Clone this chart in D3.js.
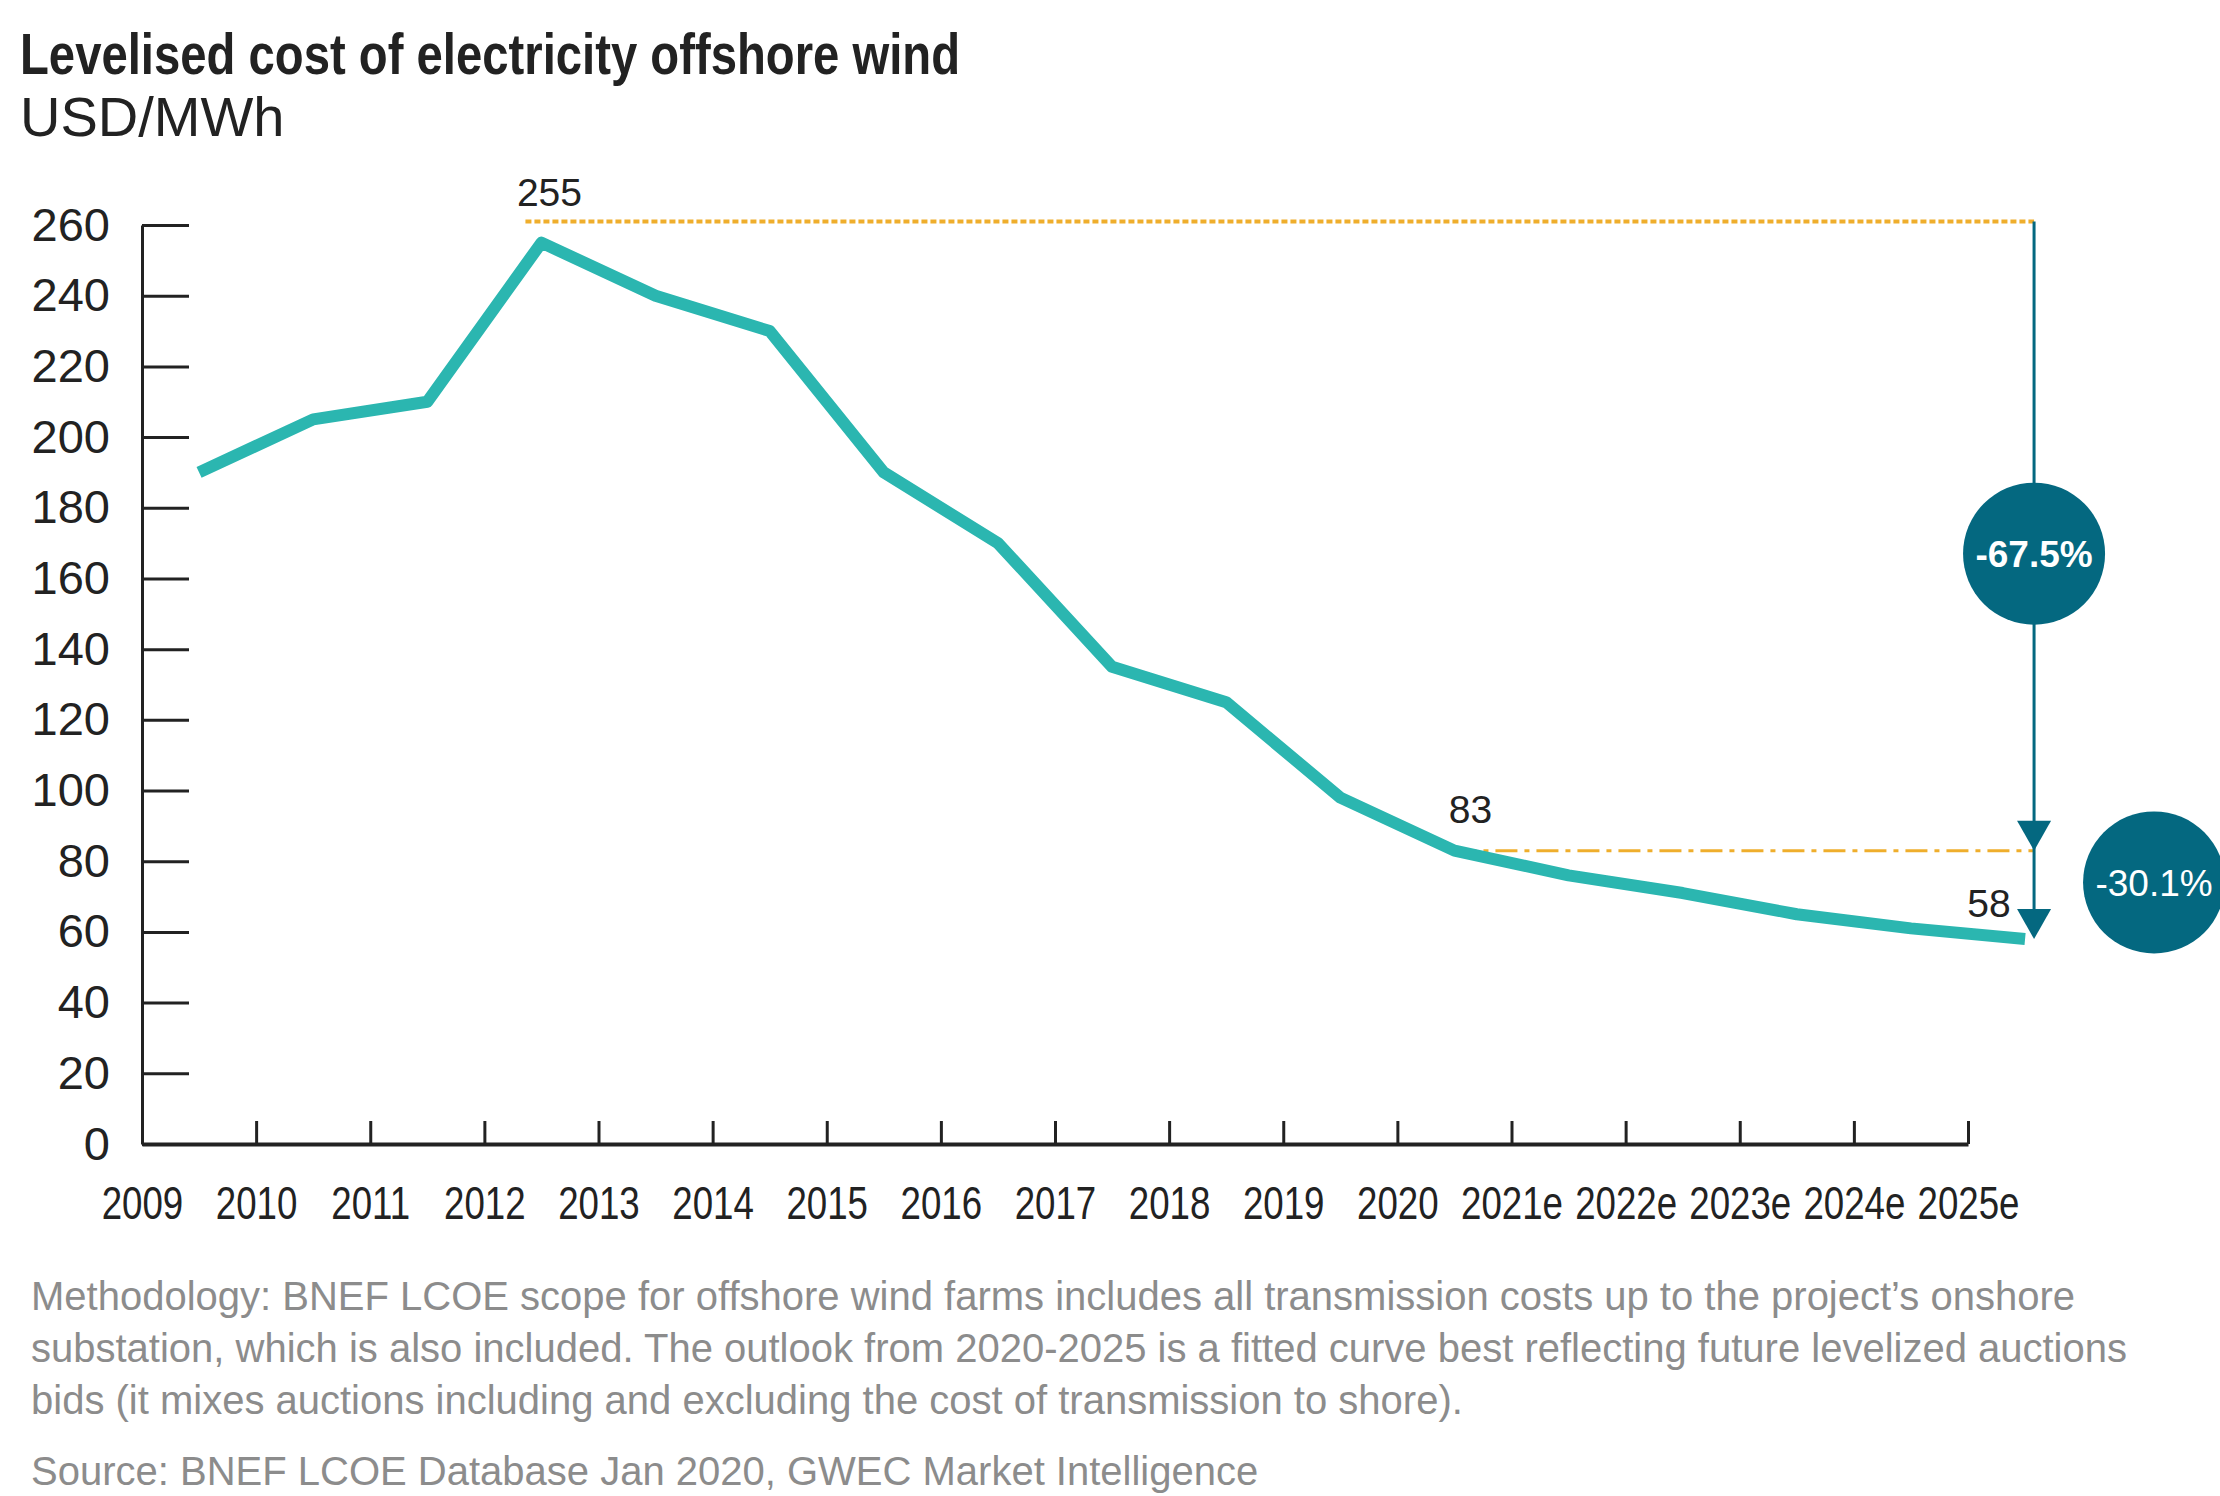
<!DOCTYPE html>
<html>
<head>
<meta charset="utf-8">
<script src="https://cdn.jsdelivr.net/npm/d3@7/dist/d3.min.js"></script>
<style>
  body { margin: 0; background: #fff; }
  svg { display: block; }
</style>
</head>
<body>
<script>
// data
var years = ["2009", "2010", "2011", "2012", "2013", "2014", "2015", "2016", "2017",
             "2018", "2019", "2020", "2021e", "2022e", "2023e", "2024e", "2025e"];
var lcoe = [190, 205, 210, 255, 240, 230, 190, 170, 135, 125, 98, 83, 76, 71, 65, 61, 58];
var yTicks = [0, 20, 40, 60, 80, 100, 120, 140, 160, 180, 200, 220, 240, 260];

var peakValue = 255, startValue = 83, endValue = 58;
var dropAll = "-67.5%", dropOutlook = "-30.1%";

var titleText = "Levelised cost of electricity offshore wind";
var unitText = "USD/MWh";
var notes = [
  "Methodology: BNEF LCOE scope for offshore wind farms includes all transmission costs up to the project\u2019s onshore",
  "substation, which is also included. The outlook from 2020-2025 is a fitted curve best reflecting future levelized auctions",
  "bids (it mixes auctions including and excluding the cost of transmission to shore)."
];
var sourceText = "Source: BNEF LCOE Database Jan 2020, GWEC Market Intelligence";

// layout
var W = 2220, H = 1496;
var plotLeft = 142, plotRight = 1968, plotTop = 225, plotBottom = 1144;

var teal = "#2bb6b0", dark = "#046880", gold = "#efae2c", ink = "#222";
var sans = "'Liberation Sans', Arial, sans-serif";

var svg = d3.select("body").append("svg")
    .attr("width", W)
    .attr("height", H);

svg.append("rect").attr("width", W).attr("height", H).attr("fill", "#fff");

var x = d3.scalePoint().domain(years).range([plotLeft, plotRight]);
var y = d3.scaleLinear().domain([0, 260]).range([plotBottom, plotTop]);
var half = x.step() / 2;

// points sit half a step to the right of their year tick
function px(i) { return x(years[i]) + half; }

// title (squeezed a bit, the original face is condensed)
svg.append("text")
    .attr("transform", "translate(20,74) scale(0.815,1)")
    .style("font-family", sans)
    .style("font-weight", "bold")
    .style("font-size", "58px")
    .style("fill", ink)
    .text(titleText);

svg.append("text")
    .attr("x", 20).attr("y", 136)
    .style("font-family", sans)
    .style("font-size", "56px")
    .style("fill", ink)
    .text(unitText);

// y axis
var yAxis = svg.append("g")
    .attr("transform", "translate(" + plotLeft + ",0)")
    .call(d3.axisLeft(y).tickValues(yTicks).tickSizeInner(-47).tickSizeOuter(0).tickPadding(32));

yAxis.select(".domain").attr("stroke", ink).attr("stroke-width", 3);
yAxis.selectAll(".tick line").attr("stroke", ink).attr("stroke-width", 3);
yAxis.selectAll(".tick text")
    .style("font-family", sans)
    .style("font-size", "47px")
    .style("fill", ink);

// x axis
var xAxis = svg.append("g")
    .attr("transform", "translate(0," + plotBottom + ")")
    .call(d3.axisBottom(x).tickSizeInner(-23).tickSizeOuter(0).tickPadding(42));

xAxis.select(".domain").attr("stroke", ink).attr("stroke-width", 4);
xAxis.selectAll(".tick line").attr("stroke", ink).attr("stroke-width", 3);
xAxis.selectAll(".tick text")
    .attr("transform", "scale(0.78,1)")
    .style("font-family", sans)
    .style("font-size", "47px")
    .style("fill", ink);

// guide lines
var vx = px(years.length - 1) + 9;

svg.append("line")
    .attr("x1", px(3) - 16).attr("x2", vx)
    .attr("y1", y(261)).attr("y2", y(261))
    .attr("stroke", gold).attr("stroke-width", 4)
    .attr("stroke-dasharray", "6,3");

svg.append("line")
    .attr("x1", px(11)).attr("x2", vx)
    .attr("y1", y(startValue)).attr("y2", y(startValue))
    .attr("stroke", gold).attr("stroke-width", 3)
    .attr("stroke-dasharray", "22,7,5,7");

// the cost line
var line = d3.line()
    .x(function(d, i) { return px(i); })
    .y(function(d) { return y(d); });

svg.append("path")
    .datum(lcoe)
    .attr("d", line)
    .attr("fill", "none")
    .attr("stroke", teal)
    .attr("stroke-width", 12)
    .attr("stroke-linejoin", "round");

// value labels
function valueLabel(tx, ty, t) {
  svg.append("text")
      .attr("x", tx).attr("y", ty)
      .attr("text-anchor", "middle")
      .style("font-family", sans)
      .style("font-size", "39px")
      .style("fill", ink)
      .text(t);
}
valueLabel(px(3) + 8, y(261) - 15, peakValue);
valueLabel(px(11) + 16, y(startValue) - 28, startValue);
valueLabel(px(16) - 36, y(endValue) - 22, endValue);

// drop arrow
svg.append("line")
    .attr("x1", vx).attr("x2", vx)
    .attr("y1", y(261)).attr("y2", y(endValue) - 4)
    .attr("stroke", dark).attr("stroke-width", 3);

function arrowHead(tipY) {
  svg.append("path")
      .attr("d", "M" + (vx - 17) + "," + (tipY - 30) + "L" + (vx + 17) + "," + (tipY - 30) + "L" + vx + "," + tipY + "Z")
      .attr("fill", dark);
}
arrowHead(y(startValue));
arrowHead(y(endValue));

function badge(cx, cy, t, weight) {
  svg.append("circle")
      .attr("cx", cx).attr("cy", cy).attr("r", 71)
      .attr("fill", dark);
  svg.append("text")
      .attr("x", cx).attr("y", cy)
      .attr("dy", "0.36em")
      .attr("text-anchor", "middle")
      .style("font-family", sans)
      .style("font-weight", weight)
      .style("font-size", "37px")
      .style("fill", "#fff")
      .text(t);
}
badge(vx, y(167), dropAll, "bold");
badge(vx + 120, y(74), dropOutlook, "normal");

// footnotes
var notesG = svg.append("g")
    .style("font-family", sans)
    .style("font-size", "40px")
    .style("fill", "#8c8c8c");

notesG.selectAll("text.note")
    .data(notes)
    .enter().append("text")
    .attr("class", "note")
    .attr("x", 31)
    .attr("y", function(d, i) { return 1310 + i * 52; })
    .text(function(d) { return d; });

notesG.append("text")
    .attr("x", 31).attr("y", 1485)
    .text(sourceText);
</script>
</body>
</html>
